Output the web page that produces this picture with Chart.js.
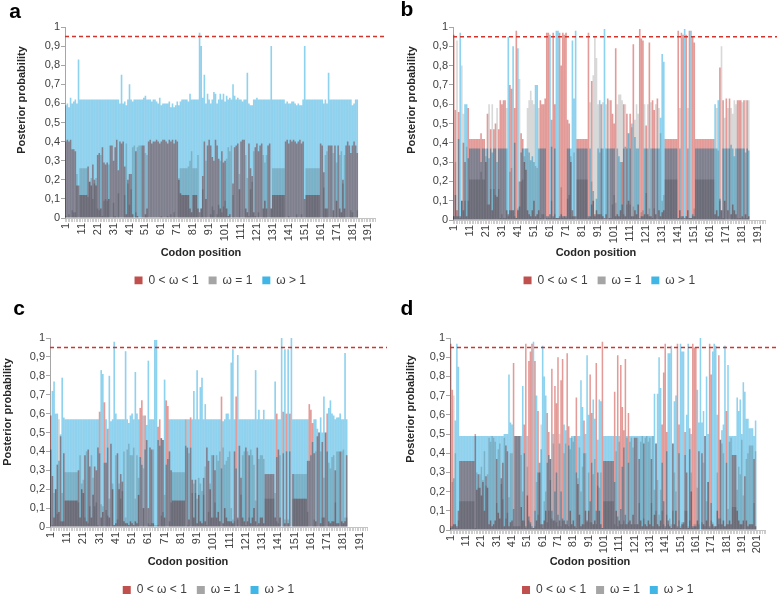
<!DOCTYPE html>
<html>
<head>
<meta charset="utf-8">
<script src="https://cdn.jsdelivr.net/npm/chart.js@4.4.1/dist/chart.umd.min.js"></script>
<style>
  body { margin: 0; background: #fff; width: 779px; height: 594px; overflow: hidden; position: relative; }
  canvas { position: absolute; }
</style>
</head>
<body>
<canvas id="pa" width="389" height="300" style="left:0;top:0"></canvas>
<canvas id="pb" width="389" height="300" style="left:390px;top:0"></canvas>
<canvas id="pc" width="389" height="294" style="left:0;top:300px"></canvas>
<canvas id="pd" width="389" height="294" style="left:390px;top:300px"></canvas>
<script>
// posterior probabilities per codon, in percent (0..100)
const seriesNames = ['0 < ω < 1', 'ω = 1', 'ω > 1'];
const cutoff = 95;      // dashed line at 0,95
const tickStep = 10;    // label every 10th codon: 1, 11, 21 ...
const codonCountA = 195, codonCountB = 195, codonCountC = 195, codonCountD = 206;

// ---- panel a ----
const aRed = [40,41,40,41,36,36,35,17,17,12, 12,12,12,12,27,19,17,28,20,17, 33,34,5,37,29,28,29,10,38,38,
  30,37,41,25,40,39,40,27,2,20, 23,23,2,0,35,1,0,0,38,38, 2,5,40,41,39,40,40,41,40,39,
  40,41,41,40,39,41,40,41,39,41, 40,20,13,12,12,12,12,12,5,3, 12,12,12,5,3,5,22,40,10,38,
  41,38,32,30,41,38,31,5,35,29, 30,5,1,2,0,18,37,38,39,15, 40,41,41,5,3,39,26,22,3,37,
  39,35,38,39,5,9,5,38,39,5, 12,12,12,12,12,12,12,12,40,41, 39,41,40,41,40,39,40,41,39,40,
  10,12,12,12,12,12,12,12,12,12, 39,38,24,5,5,38,38,38,4,38, 9,38,5,3,20,5,38,40,38,34, 38,40,38,34];
const aGrey = [1,0,2,0,4,3,3,23,0,26, 26,26,26,26,11,19,21,10,18,21, 5,4,33,1,9,10,9,28,0,0,
  8,1,0,13,0,0,0,12,39,18, 7,15,37,38,3,37,38,38,0,0, 34,33,0,0,0,0,0,0,0,0,
  1,0,0,0,1,0,2,0,3,0, 0,21,26,26,26,26,26,27,30,35, 26,26,26,33,0,5,15,0,30,0,
  0,2,6,4,0,2,7,30,3,6, 9,31,37,35,38,12,0,0,0,23, 0,0,0,33,21,1,15,19,35,1,
  0,3,0,0,33,29,33,0,0,5, 26,26,26,26,26,26,26,26,0,0, 1,0,0,0,0,2,0,0,2,0,
  0,26,26,26,26,26,26,26,26,26, 0,0,16,33,35,0,0,0,34,0, 29,0,33,35,18,33,0,0,0,4, 3,0,0,4];
const aBlue = [59,60,58,63,60,61,62,60,83,62, 62,62,62,62,62,62,62,62,62,62, 62,62,62,62,62,62,62,62,62,62,
  62,62,62,62,60,75,60,61,59,62, 70,62,61,62,62,62,62,62,62,63, 64,62,62,62,61,62,62,61,60,63,
  59,60,60,60,60,61,58,60,58,59, 61,59,61,62,62,62,62,61,65,62, 62,62,62,62,97,90,63,75,60,65,
  62,60,62,66,65,60,62,65,62,65, 61,64,62,63,62,70,64,62,63,62, 62,61,62,62,76,60,59,59,62,62,
  63,62,62,62,62,62,62,62,62,90, 62,62,62,62,62,62,62,62,60,61, 60,60,61,61,60,59,60,59,59,62,
  90,62,62,62,62,62,62,62,62,62, 62,62,60,62,60,76,62,62,62,62, 62,62,62,62,62,62,62,62,62,62, 59,60,62,62];

// ---- panel b ----
const bRed = [96,57,5,56,2,10,40,30,2,58, 42,42,42,42,42,42,42,45,42,42, 30,55,8,47,5,47,50,12,47,62,
  60,62,62,5,3,70,68,5,58,98, 5,20,45,42,30,26,5,3,2,5, 10,2,3,5,62,60,60,63,97,97,
  3,52,97,60,1,1,97,80,97,96, 97,52,50,30,5,2,2,42,42,42, 42,42,42,42,97,2,72,10,3,5,
  3,3,60,2,1,3,63,1,62,55, 50,89,3,2,5,30,60,2,55,10, 55,2,91,5,3,8,99,94,93,3,
  49,3,92,2,62,57,3,63,5,2, 4,5,42,42,42,42,42,42,42,42, 98,5,97,96,1,96,5,98,1,95,
  92,42,42,42,42,42,42,42,42,42, 42,42,42,3,5,2,79,5,62,10, 63,5,63,3,8,5,3,62,62,62, 2,62,3,62,2];
const bGrey = [2,30,93,2,1,80,55,10,38,10, 21,21,21,21,21,21,21,25,21,21, 33,8,60,16,60,16,13,58,16,1,
  3,1,1,58,2,25,27,5,2,1, 6,73,20,21,33,37,58,62,67,62, 60,28,27,58,1,3,3,0,1,1,
  1,10,1,3,1,1,1,17,1,2, 1,11,13,33,2,35,0,21,21,21, 21,21,21,21,1,61,20,75,95,84,
  60,35,3,61,0,60,0,62,1,8, 13,9,60,65,65,62,3,60,8,45, 8,48,7,52,60,55,0,4,5,60,
  14,60,6,61,1,6,60,0,58,45, 10,13,21,21,21,21,21,21,21,21, 1,58,1,2,0,2,58,1,1,2,
  6,21,21,21,21,21,21,21,21,21, 21,21,21,37,58,36,10,90,1,53, 0,58,0,58,55,62,60,1,1,1, 61,1,62,1,62];
const bBlue = [2,13,2,42,97,10,5,60,60,32, 37,37,37,37,37,37,37,30,37,37, 37,37,32,37,35,37,37,30,37,37,
  37,37,37,37,95,5,5,90,40,1, 89,7,35,37,37,37,37,35,31,33, 30,70,70,37,37,37,37,37,2,2,
  96,38,2,37,98,98,2,3,2,2, 2,37,37,37,93,63,98,37,37,37, 37,37,37,37,2,37,8,15,2,11,
  37,62,37,37,99,37,37,37,37,37, 37,2,37,33,30,8,37,38,37,45, 37,50,2,43,37,37,1,2,2,37,
  37,37,2,37,37,37,37,37,37,53, 86,82,37,37,37,37,37,37,37,37, 1,37,2,2,99,2,37,1,98,3,
  2,37,37,37,37,37,37,37,37,37, 37,37,37,60,37,62,11,5,37,37, 37,37,37,39,37,33,37,37,37,37, 37,37,35,37,36];

// ---- panel c ----
const cRed = [59,27,5,20,33,8,48,3,39,14, 14,14,14,14,14,14,14,30,5,20, 18,38,3,41,32,5,17,32,30,42,
  61,5,8,66,34,52,5,44,20,1, 2,39,20,28,24,3,2,2,1,3, 2,1,3,2,17,63,67,10,59,46,
  10,42,41,2,0,0,53,57,47,46, 5,67,64,40,30,14,14,14,14,14, 14,14,14,57,42,4,58,25,5,25,
  2,17,3,2,26,3,42,35,20,5, 38,30,5,8,3,69,2,10,5,3, 3,3,2,40,69,5,43,26,5,3,
  42,3,38,2,5,10,3,42,2,5, 5,2,28,28,28,28,28,28,5,60, 41,5,0,61,2,60,2,60,0,28,
  15,15,15,15,15,15,15,15,35,65, 62,55,39,3,48,50,2,45,5,50, 60,3,2,3,3,30,2,2,40,3, 2,3,38];
const cGrey = [0,1,18,20,7,57,3,18,3,29, 29,29,29,29,29,29,29,13,38,23, 25,5,40,2,11,38,26,11,13,1,
  0,12,11,0,9,6,15,0,23,1, 38,4,23,15,19,40,5,41,44,38, 38,42,15,38,26,0,0,31,0,0,
  2,1,2,41,1,1,1,0,6,8, 17,0,0,3,13,29,29,29,29,29, 29,29,29,0,1,39,0,18,23,18,
  15,26,23,19,17,32,1,8,23,38, 5,13,38,35,40,0,42,33,35,37, 40,10,4,3,0,4,0,17,38,40,
  1,40,5,41,38,33,14,1,36,38, 38,36,15,15,15,15,15,15,18,3, 2,38,0,0,4,0,4,0,0,15,
  28,28,28,28,28,28,28,28,8,0, 0,0,4,40,0,0,40,5,26,0, 0,34,31,37,38,13,40,40,0,40, 41,5,5];
const cBlue = [41,72,77,60,60,35,49,79,58,57, 57,57,57,57,57,57,57,57,57,57, 57,57,57,57,57,57,57,57,57,57,
  39,83,81,34,57,42,80,56,57,98, 60,57,57,57,57,57,93,57,55,59, 60,57,82,60,57,37,33,59,41,54,
  88,57,57,57,99,99,46,43,47,46, 78,33,36,57,57,57,57,57,57,57, 57,57,57,43,57,57,42,57,72,57,
  83,57,74,79,57,65,57,57,57,57, 57,57,57,57,57,31,56,57,60,60, 57,87,94,57,31,91,57,57,57,57,
  57,57,57,57,57,57,83,57,62,57, 57,62,57,57,57,57,57,57,77,37, 57,57,100,39,94,40,94,40,100,57,
  57,57,57,57,57,57,57,57,57,35, 38,45,57,57,52,50,58,50,69,50, 40,63,67,60,59,57,58,58,60,57, 57,92,57];

// ---- panel d ----
const dRed = [97,73,3,3,2,10,36,36,36,36, 36,36,36,36,36,36,50,21,29,22, 18,25,10,28,22,3,5,2,3,5,
  37,9,6,27,35,2,44,41,2,4, 5,87,49,49,49,49,12,5,55,97, 18,88,93,97,1,88,5,62,30,3,
  3,5,10,61,51,37,84,5,75,66, 90,5,78,89,5,3,92,54,10,3, 5,2,69,24,8,2,3,57,10,5,
  10,81,61,3,5,87,30,10,3,98, 36,36,36,36,36,36,36,72,10,91, 5,86,64,52,89,3,61,5,3,8,
  48,48,3,37,5,2,45,3,2,5, 3,37,2,8,45,3,2,5,55,82, 97,51,5,2,1,45,3,10,97,55,
  1,3,4,51,30,1,53,20,97,95, 95,5,41,0,40,3,49,5,25,97, 81,3,2,2,10,91,47,3,5,2,
  62,3,5,3,39,39,39,10,5,3, 3,5,28,5,2,3,3,3,37,2];
const dGrey = [2,25,70,40,1,5,15,15,15,15, 15,15,15,15,15,15,1,30,22,29, 33,26,41,23,29,48,46,49,48,46,
  14,42,45,24,16,48,6,9,17,40, 40,2,2,2,2,2,39,20,5,1, 33,5,3,1,1,2,25,8,35,55,
  1,15,20,4,10,26,6,45,5,4, 2,50,2,5,40,45,3,2,42,48, 46,49,1,27,43,20,33,3,40,4,
  30,4,4,29,37,3,23,22,30,1, 15,15,15,15,15,15,15,3,41,2, 46,3,3,5,3,48,4,46,48,43,
  3,3,48,14,46,49,6,48,49,46, 48,14,49,21,10,26,8,21,10,3, 1,8,3,6,3,10,30,20,1,5,
  2,4,3,10,10,2,5,30,1,3, 3,22,3,0,4,35,2,15,25,1, 5,4,1,2,30,3,6,45,40,2,
  3,11,46,48,12,12,12,21,33,29, 47,18,0,37,40,44,44,44,14,41];
const dBlue = [1,2,27,57,97,85,49,49,49,49, 49,49,49,49,49,49,49,49,49,49, 49,49,49,49,49,49,49,49,49,49,
  49,49,49,49,49,50,50,50,81,56, 55,11,49,49,49,49,49,75,40,2, 49,7,4,2,98,10,70,30,35,42,
  96,80,70,35,39,37,10,50,20,30, 8,45,20,6,55,52,5,44,48,49, 49,49,30,49,49,78,64,40,50,91,
  60,15,35,68,58,10,47,68,67,1, 49,49,49,49,49,49,49,25,49,7, 49,11,33,43,8,49,35,49,49,49,
  49,49,49,49,49,49,49,49,49,49, 49,49,49,71,45,71,90,74,35,15, 2,41,92,92,96,45,67,70,2,40,
  97,93,93,39,60,97,42,50,2,2, 2,73,56,100,56,62,49,80,50,2, 14,93,97,96,60,6,47,52,55,96,
  35,86,49,49,49,49,49,69,62,68, 50,77,72,58,58,53,53,53,49,57];

// bar fills are multiplied together so overlaps darken like transparent Excel bars
const barColors = ['#e49b98', '#d8d8d8', '#8dd2ee'];
const legendColors = ['#c0504d', '#a5a5a5', '#3fb6e6'];

Chart.defaults.font.family = "'Liberation Sans', Arial, sans-serif";
Chart.defaults.font.size = 11;
Chart.defaults.color = '#404040';

const overlay = {
  id: 'overlay',
  beforeDraw(chart) {
    const c = chart.ctx;
    c.save();
    c.fillStyle = '#fff';
    c.fillRect(0, 0, chart.width, chart.height);
    c.restore();
  },
  beforeDatasetsDraw(chart) {
    chart.ctx.save();
    chart.ctx.globalCompositeOperation = 'multiply';
  },
  afterDatasetsDraw(chart) {
    const c = chart.ctx;
    c.restore();
    const y = chart.scales.y.getPixelForValue(cutoff);
    c.save();
    c.strokeStyle = '#d2332b';
    c.lineWidth = 1.5;
    c.setLineDash([4, 3]);
    c.beginPath();
    c.moveTo(chart.chartArea.left, y);
    c.lineTo(chart.width - 2, y);
    c.stroke();
    c.restore();
  },
  afterDraw(chart, args, o) {
    const c = chart.ctx;
    c.save();
    c.fillStyle = '#000';
    c.textAlign = 'center';
    c.textBaseline = 'middle';
    c.font = "bold 21px 'Liberation Sans', Arial, sans-serif";
    c.fillText(o.letter, o.lx, o.ly);
    c.fillStyle = '#262626';
    c.font = "bold 11px 'Liberation Sans', Arial, sans-serif";
    c.fillText('Codon position', o.xtx, o.xty);
    c.translate(o.ytx, o.yty);
    c.rotate(-Math.PI / 2);
    c.fillText('Posterior probability', 0, 0);
    c.restore();
  }
};

function makePanel(id, count, red, grey, blue, p) {
  const codons = Array.from({ length: count }, (_, i) => String(i + 1));
  return new Chart(document.getElementById(id), {
    type: 'bar',
    data: {
      labels: codons,
      datasets: [red, grey, blue].map((d, i) => ({
        label: seriesNames[i],
        data: d,
        backgroundColor: barColors[i],
        borderWidth: 0,
        inflateAmount: 0,
        barPercentage: 1,
        categoryPercentage: 1
      }))
    },
    options: {
      responsive: false,
      animation: false,
      events: [],
      layout: { padding: { top: p.top, right: p.right, bottom: p.bottom, left: 0 } },
      scales: {
        x: {
          stacked: true,
          afterFit(s) { s.height = p.xh; },
          border: { color: '#c4c4c4' },
          grid: { drawOnChartArea: false, tickLength: 4, color: '#cdcdcd' },
          ticks: {
            autoSkip: false, maxRotation: 90, minRotation: 90, padding: 1,
            callback: (v, i) => (i % tickStep === 0 ? codons[i] : '')
          }
        },
        y: {
          stacked: false,
          min: 0, max: 100,
          afterFit(s) { s.width = p.left; },
          border: { color: '#a6a6a6' },
          grid: { drawOnChartArea: false, tickLength: 4, color: '#a6a6a6' },
          ticks: { stepSize: 10, padding: 1, callback: v => String(v / 100).replace('.', ',') }
        }
      },
      plugins: {
        tooltip: { enabled: false },
        legend: {
          position: 'bottom',
          fullSize: false,
          maxHeight: 20,
          labels: {
            boxWidth: 8, boxHeight: 8, padding: 10, font: { size: 12 },
            generateLabels(chart) {
              const items = Chart.defaults.plugins.legend.labels.generateLabels(chart);
              items.forEach((it, i) => { it.fillStyle = legendColors[i]; it.strokeStyle = legendColors[i]; it.lineWidth = 0; });
              return items;
            }
          }
        },
        overlay: p
      }
    },
    plugins: [overlay]
  });
}

makePanel('pa', codonCountA, aRed, aGrey, aBlue,
  { top: 27, right: 9, bottom: 15.5, left: 65, xh: 46.5, letter: 'a', lx: 15, ly: 12, ytx: 22, yty: 100, xtx: 201, xty: 253 });
makePanel('pb', codonCountB, bRed, bGrey, bBlue,
  { top: 27, right: 2, bottom: 15.5, left: 63, xh: 44.5, letter: 'b', lx: 17, ly: 10, ytx: 22, yty: 100, xtx: 206, xty: 253 });
makePanel('pc', codonCountC, cRed, cGrey, cBlue,
  { top: 38, right: 22, bottom: 0, left: 50, xh: 47, letter: 'c', lx: 19, ly: 9, ytx: 8, yty: 112, xtx: 188, xty: 262 });
makePanel('pd', codonCountD, dRed, dGrey, dBlue,
  { top: 38, right: 9, bottom: 0, left: 60, xh: 44, letter: 'd', lx: 17, ly: 9, ytx: 21, yty: 109, xtx: 200, xty: 262 });
</script>
</body>
</html>
